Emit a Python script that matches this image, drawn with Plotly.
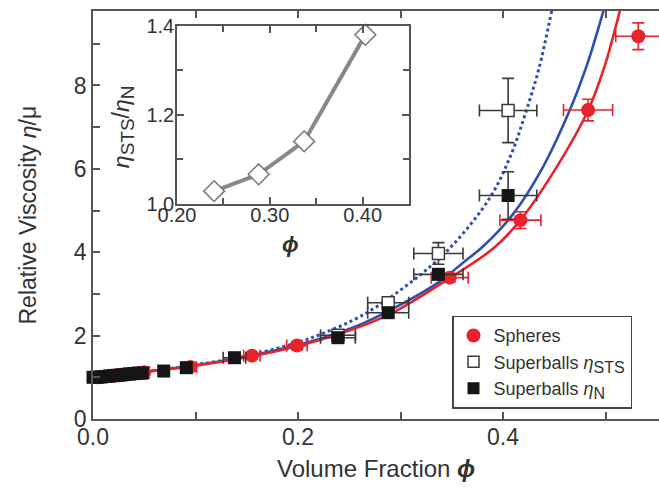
import plotly.graph_objects as go

# ---------------- data ----------------
# fitted curves
red_phi = [0, 0.05, 0.1, 0.15, 0.2, 0.25, 0.29, 0.346, 0.391, 0.417, 0.45, 0.483, 0.499, 0.514]
red_eta = [1.0, 1.13, 1.28, 1.48, 1.75, 2.12, 2.52, 3.35, 4.1, 4.77, 5.95, 7.4, 8.45, 9.79]

blue_phi = [0, 0.05, 0.1, 0.15, 0.2, 0.231, 0.264, 0.3125, 0.3385, 0.361, 0.381, 0.41, 0.438, 0.465, 0.482, 0.498]
blue_eta = [1.0, 1.13, 1.29, 1.5, 1.78, 2.0, 2.3, 2.91, 3.3, 3.75, 4.15, 4.92, 6.0, 7.4, 8.5, 9.79]

dot_phi = [0, 0.05, 0.1, 0.15, 0.2, 0.231, 0.26, 0.296, 0.345, 0.387, 0.408, 0.4215, 0.435, 0.4475]
dot_eta = [1.0, 1.13, 1.3, 1.52, 1.84, 2.12, 2.45, 3.02, 4.02, 5.3, 6.35, 7.3, 8.4, 9.79]

# spheres
sph_phi = [0.004, 0.008, 0.012, 0.016, 0.02, 0.025, 0.03, 0.035, 0.04, 0.045, 0.05,
           0.095, 0.155, 0.199, 0.348, 0.417, 0.483, 0.532]
sph_eta = [1.0, 1.01, 1.02, 1.03, 1.04, 1.05, 1.06, 1.08, 1.09, 1.1, 1.12,
           1.25, 1.52, 1.76, 3.39, 4.77, 7.41, 9.18]
sph_xerr = [0.004] * 11 + [0.006, 0.008, 0.01, 0.018, 0.02, 0.024, 0.022]
sph_yerr = [0.13] * 11 + [0.1, 0.08, 0.1, 0.1, 0.2, 0.26, 0.32]

# superballs eta_STS (open)
sts_phi = [0.239, 0.288, 0.337, 0.405]
sts_eta = [2.01, 2.79, 3.97, 7.40]
sts_xerr = [0.017, 0.02, 0.024, 0.028]
sts_yerr = [0.1, 0.12, 0.26, 0.77]

# superballs eta_N (filled)
n_phi = [0.0, 0.004, 0.008, 0.012, 0.016, 0.02, 0.024, 0.028, 0.032, 0.036, 0.04, 0.044, 0.048,
         0.069, 0.091, 0.138, 0.239, 0.288, 0.337, 0.405]
n_eta = [1.0, 1.0, 1.01, 1.02, 1.03, 1.04, 1.05, 1.06, 1.07, 1.08, 1.09, 1.1, 1.1,
         1.15, 1.23, 1.47, 1.95, 2.55, 3.47, 5.36]
n_xerr = [0.0] * 13 + [0.0, 0.005, 0.011, 0.017, 0.02, 0.024, 0.028]
n_yerr = [0.0] * 13 + [0.0, 0.03, 0.05, 0.08, 0.1, 0.12, 0.57]

# inset ratio
ins_phi = [0.24, 0.288, 0.337, 0.403]
ins_ratio = [1.028, 1.066, 1.14, 1.38]

x_ticks = [0.0, 0.2, 0.4]
x_labels = ["0.0", "0.2", "0.4"]
y_ticks = [0, 2, 4, 6, 8]
ix_ticks = [0.20, 0.30, 0.40]
ix_labels = ["0.20", "0.30", "0.40"]
iy_ticks = [1.0, 1.2, 1.4]
iy_labels = ["1.0", "1.2", "1.4"]

RED = "#e8232b"
BLUE = "#2f4fae"
DARK = "#3a3a3a"
AX = "#555555"
TXT = "#333333"
FONT = "Liberation Sans, Arial, sans-serif"

# plot-area pixel helpers (plot area: x 93..659, y 8..419)
PL, PR, PT, PB = 93, 659, 8, 419


def px(x):
    return (x - PL) / (PR - PL)


def py(y):
    return (PB - y) / (PB - PT)


def sub(t, size):
    return "<sub><span style='font-size:%dpx'>%s</span></sub>" % (size, t)


fig = go.Figure()

fig.add_trace(go.Scatter(x=dot_phi, y=dot_eta, mode="lines", line=dict(color=BLUE, width=3, dash="dot", shape="spline"),
                         showlegend=False, hoverinfo="skip"))
fig.add_trace(go.Scatter(x=blue_phi, y=blue_eta, mode="lines", line=dict(color=BLUE, width=2.6, shape="spline"),
                         showlegend=False, hoverinfo="skip"))
fig.add_trace(go.Scatter(x=red_phi, y=red_eta, mode="lines", line=dict(color=RED, width=2.6, shape="spline"),
                         showlegend=False, hoverinfo="skip"))

fig.add_trace(go.Scatter(
    x=sph_phi, y=sph_eta, mode="markers",
    marker=dict(symbol="circle", size=14, color=RED, line=dict(width=0)),
    error_x=dict(type="data", array=sph_xerr, color=RED, thickness=1.6, width=6),
    error_y=dict(type="data", array=sph_yerr, color=RED, thickness=1.6, width=6),
    showlegend=False, cliponaxis=False))

fig.add_trace(go.Scatter(
    x=sts_phi, y=sts_eta, mode="markers",
    marker=dict(symbol="square", size=12, color="white", line=dict(width=1.5, color=DARK)),
    error_x=dict(type="data", array=sts_xerr, color=DARK, thickness=1.6, width=6),
    error_y=dict(type="data", array=sts_yerr, color=DARK, thickness=1.6, width=6),
    showlegend=False, cliponaxis=False))

fig.add_trace(go.Scatter(
    x=n_phi, y=n_eta, mode="markers",
    marker=dict(symbol="square", size=13, color="#151515", line=dict(width=0)),
    error_x=dict(type="data", array=n_xerr, color=DARK, thickness=1.6, width=6),
    error_y=dict(type="data", array=n_yerr, color=DARK, thickness=1.6, width=6),
    showlegend=False, cliponaxis=False))

# legend-only traces
fig.add_trace(go.Scatter(x=[None], y=[None], mode="markers", name="Spheres",
                         marker=dict(symbol="circle", size=14, color=RED)))
fig.add_trace(go.Scatter(x=[None], y=[None], mode="markers", name="Superballs <i>η</i>" + sub("STS", 16),
                         marker=dict(symbol="square", size=11, color="white", line=dict(width=1.5, color=DARK))))
fig.add_trace(go.Scatter(x=[None], y=[None], mode="markers", name="Superballs <i>η</i>" + sub("N", 16),
                         marker=dict(symbol="square", size=12, color="#151515")))

# inset
fig.add_trace(go.Scatter(
    x=ins_phi, y=ins_ratio, mode="lines+markers", xaxis="x2", yaxis="y2",
    line=dict(color="#888888", width=4),
    marker=dict(symbol="diamond", size=16, color="white", line=dict(width=1.5, color="#777777")),
    showlegend=False, cliponaxis=False))


def axis_common(fs, standoff=0):
    return dict(showgrid=False, zeroline=False, showline=True, linecolor=AX, linewidth=1.5,
                ticks="inside", ticklen=7, tickwidth=1.5, tickcolor=AX, ticklabelstandoff=standoff,
                tickfont=dict(family=FONT, size=fs, color=TXT))


fig.update_layout(
    width=659, height=491,
    margin=dict(l=PL, r=659 - PR, t=PT, b=491 - PB),
    plot_bgcolor="white", paper_bgcolor="white",
    font=dict(family=FONT, color=TXT),
    xaxis=dict(range=[0, 0.5522], tickvals=x_ticks, ticktext=x_labels, mirror="allticks",
               minor=dict(dtick=0.1, ticks="inside", ticklen=7, tickwidth=1.5, tickcolor=AX),
               **axis_common(23, -3)),
    yaxis=dict(range=[0, 9.786], tickvals=y_ticks, mirror=False,
               minor=dict(dtick=1, ticks="inside", ticklen=7, tickwidth=1.5, tickcolor=AX),
               **axis_common(23)),
    xaxis2=dict(domain=[px(177), px(409)], anchor="y2", range=[0.20, 0.45],
                tickvals=ix_ticks, ticktext=ix_labels, mirror="allticks",
                minor=dict(tick0=0.25, dtick=0.1, ticks="inside", ticklen=6, tickwidth=1.5, tickcolor=AX),
                **axis_common(20, -7)),
    yaxis2=dict(domain=[py(202), py(23)], anchor="x2", range=[1.0, 1.4],
                tickvals=iy_ticks, ticktext=iy_labels, mirror="allticks",
                minor=dict(tick0=1.1, dtick=0.2, ticks="inside", ticklen=6, tickwidth=1.5, tickcolor=AX),
                **axis_common(20, -3)),
    legend=dict(x=px(452), y=py(315), xanchor="left", yanchor="top",
                bordercolor="#444444", borderwidth=1.5, bgcolor="white",
                font=dict(family=FONT, size=18, color=TXT),
                tracegroupgap=0, itemsizing="trace"),
    showlegend=True,
)

fig.add_annotation(text="Relative Viscosity <i>η</i>/μ", xref="paper", yref="paper",
                   x=px(28), y=py(214), textangle=-90, showarrow=False,
                   xanchor="center", yanchor="middle", font=dict(family=FONT, size=23, color=TXT))
fig.add_annotation(text="Volume Fraction <b><i>ϕ</i></b>", xref="paper", yref="paper",
                   x=px(376), y=py(469), showarrow=False,
                   xanchor="center", yanchor="middle", font=dict(family=FONT, size=24, color=TXT))
fig.add_annotation(text="<b><i>ϕ</i></b>", xref="paper", yref="paper",
                   x=px(290), y=py(243), showarrow=False,
                   xanchor="center", yanchor="middle", font=dict(family=FONT, size=22, color=TXT))
fig.add_annotation(text="<i>η</i>" + sub("STS", 19) + "/<i>η</i>" + sub("N", 19), xref="paper", yref="paper",
                   x=px(123), y=py(125), textangle=-90, showarrow=False,
                   xanchor="center", yanchor="middle", font=dict(family=FONT, size=23, color=TXT))

fig.write_html("out.html")
